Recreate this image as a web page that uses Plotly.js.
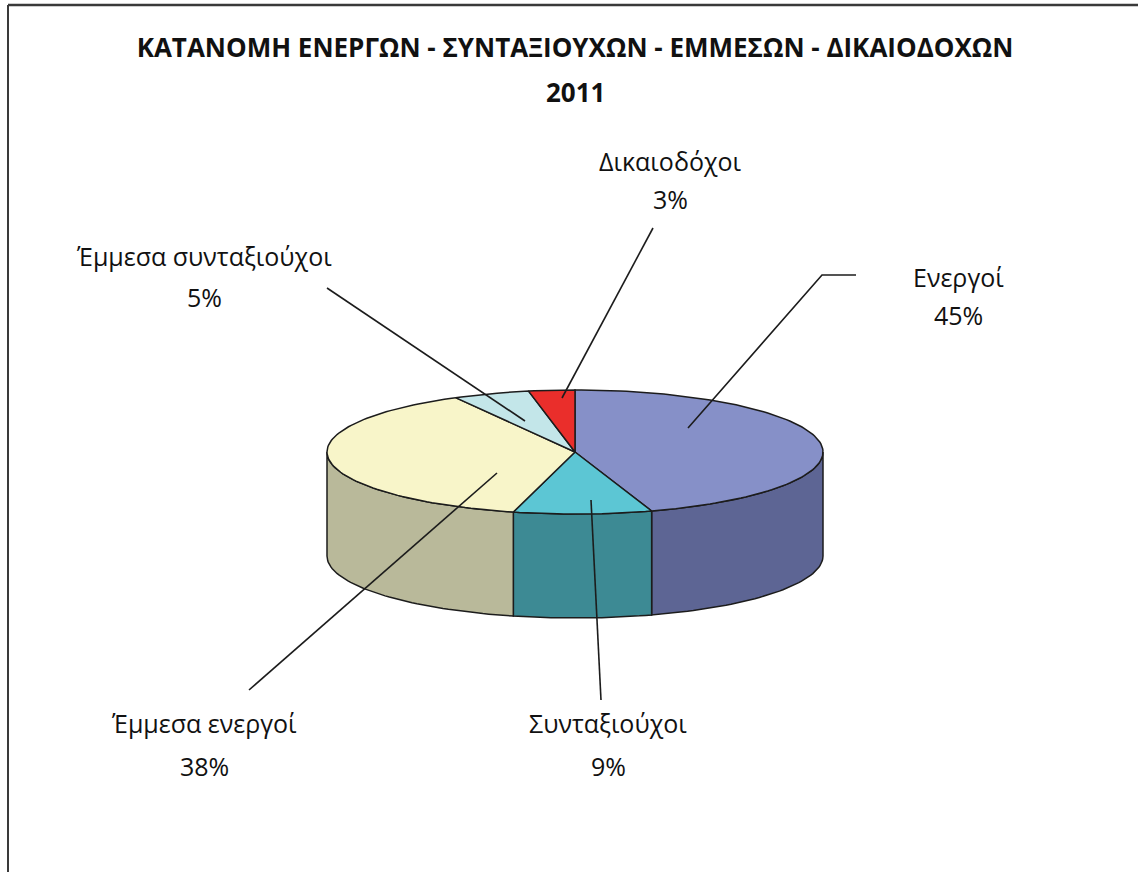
<!DOCTYPE html>
<html>
<head>
<meta charset="utf-8">
<script src="https://cdn.plot.ly/plotly-3.0.1.min.js"></script>
<style>
  html, body { margin: 0; padding: 0; background: #ffffff; }
  #chart { width: 1138px; height: 872px; }
</style>
</head>
<body>
<div id="chart"></div>
<script>
// ---------------- DATA ----------------
const chartTitle = 'ΚΑΤΑΝΟΜΗ ΕΝΕΡΓΩΝ - ΣΥΝΤΑΞΙΟΥΧΩΝ - ΕΜΜΕΣΩΝ - ΔΙΚΑΙΟΔΟΧΩΝ';
const chartYear = '2011';
const categories = ['Ενεργοί', 'Συνταξιούχοι', 'Έμμεσα ενεργοί', 'Έμμεσα συνταξιούχοι', 'Δικαιοδόχοι'];
const values = [45, 9, 38, 5, 3];

// ---------------- STYLE / LAYOUT ----------------
const topColors  = ['#8690C8', '#5CC6D4', '#F8F5C9', '#C3E6E9', '#EA2E2B'];
const sideColors = ['#5D6594', '#3D8A94', '#B9B99A', '#8FB0B2', '#A82020'];
const W = 1138, H = 872;
const PIE = { cx: 575, cy: 452, rx: 248, ry: 62, depth: 104, start: 0 };
const FONT = '"Open Sans", "Noto Sans", "DejaVu Sans", sans-serif';
// label placement (pixel coordinates of page): [x, yName, yPct]
const labelPos = [
  [958, 277, 315],
  [608, 723, 766],
  [204, 723, 766],
  [204, 256, 297],
  [670, 161, 199]
];
// leader line waypoints (pixel coordinates of page)
const leaderPaths = [
  [[688, 428], [822, 275], [856, 275]],
  [[591, 500], [601, 700]],
  [[497, 473], [249, 690]],
  [[525, 421], [327, 288]],
  [[562, 398], [653, 228]]
];

// ---------------- GEOMETRY ----------------
const total = values.reduce((a, b) => a + b, 0);
function pt(deg, dz) {
  const r = deg * Math.PI / 180;
  return [PIE.cx + PIE.rx * Math.sin(r), PIE.cy - PIE.ry * Math.cos(r) + dz];
}
function arc(a0, a1, dz) {
  const n = Math.max(2, Math.ceil(Math.abs(a1 - a0) / 1.5));
  const out = [];
  for (let i = 0; i <= n; i++) out.push(pt(a0 + (a1 - a0) * i / n, dz));
  return out;
}

const ranges = [];
let acc = PIE.start;
values.forEach(v => {
  const sweep = v / total * 360;
  ranges.push([acc, acc + sweep]);
  acc += sweep;
});

const traces = [];
const edge = { color: '#1c1c1c', width: 1.5 };

// side walls (front half only: 90° .. 270°)
ranges.forEach((r, i) => {
  const s0 = Math.max(r[0], 90), s1 = Math.min(r[1], 270);
  if (s0 >= s1) return;
  const poly = arc(s0, s1, 0).concat(arc(s1, s0, PIE.depth));
  poly.push(poly[0]);
  traces.push({
    type: 'scatter', mode: 'lines', fill: 'toself',
    x: poly.map(p => p[0]), y: poly.map(p => p[1]),
    fillcolor: sideColors[i], line: edge, hoverinfo: 'skip', showlegend: false
  });
});

// top faces
ranges.forEach((r, i) => {
  const poly = [[PIE.cx, PIE.cy]].concat(arc(r[0], r[1], 0));
  poly.push([PIE.cx, PIE.cy]);
  traces.push({
    type: 'scatter', mode: 'lines', fill: 'toself',
    x: poly.map(p => p[0]), y: poly.map(p => p[1]),
    fillcolor: topColors[i], line: edge,
    name: categories[i], text: categories[i] + ': ' + values[i] + '%',
    hoverinfo: 'text', showlegend: false
  });
});

// leader lines
leaderPaths.forEach(path => {
  traces.push({
    type: 'scatter', mode: 'lines',
    x: path.map(p => p[0]), y: path.map(p => p[1]),
    line: { color: '#1c1c1c', width: 1.6 }, hoverinfo: 'skip', showlegend: false
  });
});

// labels
const annotations = [];
categories.forEach((c, i) => {
  const pct = Math.round(values[i] / total * 100) + '%';
  annotations.push({
    x: labelPos[i][0], y: labelPos[i][1], xref: 'x', yref: 'y',
    text: c, showarrow: false, xanchor: 'center', yanchor: 'middle',
    font: { family: FONT, size: 25, color: '#111111' }
  });
  annotations.push({
    x: labelPos[i][0], y: labelPos[i][2], xref: 'x', yref: 'y',
    text: pct, showarrow: false, xanchor: 'center', yanchor: 'middle',
    font: { family: FONT, size: 25, color: '#111111' }
  });
});
annotations.push({
  x: 575, y: 92, xref: 'x', yref: 'y', text: '<b>' + chartYear + '</b>',
  showarrow: false, xanchor: 'center', yanchor: 'middle',
  font: { family: FONT, size: 26, color: '#111111' }
});

const layout = {
  width: W, height: H,
  margin: { l: 0, r: 0, t: 0, b: 0, pad: 0 },
  paper_bgcolor: '#ffffff', plot_bgcolor: '#ffffff',
  title: {
    text: '<b>' + chartTitle + '</b>',
    x: 575 / W, xanchor: 'center', xref: 'paper',
    y: 1 - 48 / H, yanchor: 'middle', yref: 'container',
    font: { family: FONT, size: 26, color: '#111111' }
  },
  xaxis: { range: [0, W], visible: false, fixedrange: true },
  yaxis: { range: [H, 0], visible: false, fixedrange: true },
  showlegend: false,
  annotations: annotations,
  shapes: [
    { type: 'line', xref: 'paper', yref: 'paper', x0: 8 / W, x1: 8 / W, y0: 1 - 5 / H, y1: 0,
      line: { color: '#3a3a3a', width: 2 } },
    { type: 'line', xref: 'paper', yref: 'paper', x0: 8 / W, x1: 1, y0: 1 - 5 / H, y1: 1 - 5 / H,
      line: { color: '#3a3a3a', width: 2.5 } }
  ],
  hovermode: 'closest'
};

Plotly.newPlot('chart', traces, layout, { displayModeBar: false, staticPlot: false, responsive: false });
</script>
</body>
</html>
